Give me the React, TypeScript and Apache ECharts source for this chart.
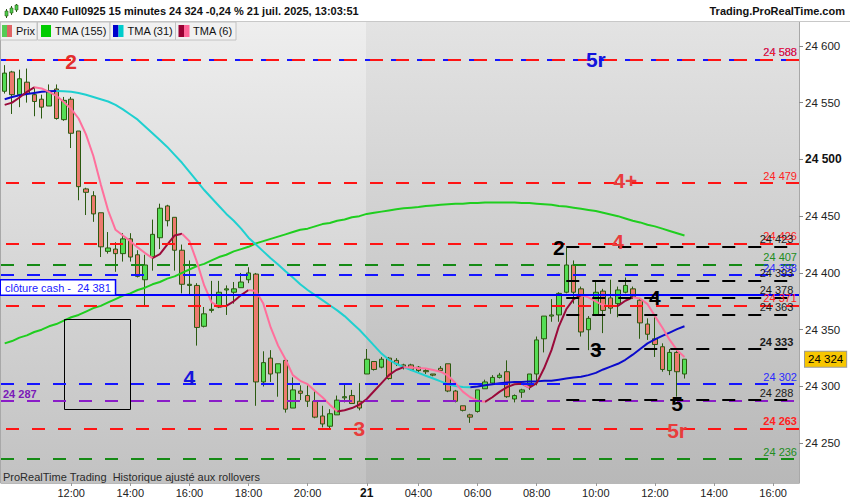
import { useEffect, useRef } from "react";
import * as echarts from "echarts";

// 15 minute bars, DAX40 Full0925 (index 0 = first visible bar)
const opens = [
  24560, 24577, 24557, 24568, 24557, 24553, 24547, 24562, 24535, 24553,
  24525, 24474, 24468, 24453, 24419, 24421, 24417, 24430, 24416, 24394,
  24414, 24431, 24459, 24449, 24420, 24389, 24389, 24353, 24367, 24370,
  24385, 24383, 24387, 24394, 24399, 24304, 24325, 24312, 24323, 24281,
  24296, 24292, 24287, 24274, 24265, 24275, 24290, 24292, 24287, 24311,
  24322, 24317, 24325, 24323, 24319, 24319, 24317, 24314, 24311, 24316,
  24320, 24296, 24283, 24275, 24278, 24298, 24303, 24308, 24313, 24289,
  24295, 24301, 24311, 24342, 24362, 24363, 24383, 24407, 24386, 24350,
  24363, 24384, 24378, 24373, 24383, 24386, 24376, 24355, 24342, 24335,
  24314, 24330, 24311,
];
const closes = [
  24576, 24557, 24571, 24558, 24551, 24546, 24560, 24536, 24552, 24523,
  24476, 24471, 24452, 24423, 24422, 24417, 24430, 24414, 24397, 24407,
  24434, 24457, 24446, 24420, 24390, 24390, 24352, 24364, 24368, 24383,
  24386, 24386, 24392, 24400, 24304, 24321, 24311, 24320, 24280, 24297,
  24294, 24287, 24273, 24267, 24276, 24288, 24291, 24285, 24281, 24324,
  24315, 24324, 24307, 24320, 24317, 24315, 24314, 24313, 24310, 24314,
  24296, 24287, 24279, 24273, 24297, 24304, 24308, 24310, 24291, 24292,
  24297, 24311, 24341, 24362, 24363, 24382, 24407, 24383, 24348, 24360,
  24383, 24367, 24369, 24385, 24389, 24379, 24356, 24346, 24337, 24315,
  24330, 24313, 24324,
];
const lows = [
  24558, 24540, 24546, 24550, 24538, 24536, 24547, 24535, 24534, 24510,
  24464, 24451, 24445, 24414, 24417, 24401, 24410, 24410, 24396, 24370,
  24402, 24421, 24441, 24402, 24382, 24380, 24336, 24352, 24365, 24369,
  24363, 24373, 24387, 24391, 24283, 24300, 24304, 24291, 24277, 24281,
  24288, 24282, 24272, 24264, 24262, 24275, 24286, 24285, 24279, 24311,
  24314, 24316, 24306, 24318, 24315, 24314, 24312, 24311, 24309, 24313,
  24295, 24286, 24278, 24268, 24277, 24298, 24302, 24307, 24290, 24286,
  24290, 24297, 24301, 24330, 24357, 24357, 24382, 24373, 24344, 24332,
  24362, 24347, 24364, 24361, 24382, 24377, 24342, 24341, 24326, 24313,
  24310, 24291, 24307,
];
const highs = [
  24583, 24578, 24579, 24580, 24564, 24557, 24566, 24566, 24555, 24555,
  24525, 24475, 24472, 24453, 24436, 24427, 24435, 24435, 24420, 24416,
  24447, 24461, 24460, 24449, 24425, 24411, 24391, 24370, 24393, 24393,
  24389, 24392, 24400, 24405, 24400, 24331, 24332, 24320, 24324, 24308,
  24301, 24301, 24297, 24283, 24280, 24292, 24303, 24297, 24303, 24333,
  24322, 24326, 24326, 24325, 24320, 24320, 24318, 24316, 24311, 24318,
  24320, 24297, 24283, 24276, 24297, 24306, 24310, 24312, 24323, 24293,
  24298, 24311, 24344, 24362, 24377, 24383, 24422, 24411, 24388, 24362,
  24392, 24386, 24394, 24388, 24396, 24388, 24378, 24360, 24361, 24338,
  24333, 24333, 24324,
];

const tma155 = [
  24338, 24340, 24343, 24345, 24348, 24350, 24353, 24355, 24358, 24361,
  24363, 24366, 24369, 24371, 24374, 24377, 24380, 24382, 24385, 24387,
  24390, 24392, 24395, 24397, 24400, 24403, 24406, 24408, 24411, 24414,
  24416, 24419, 24421, 24423, 24426, 24428, 24430, 24432, 24434, 24436,
  24438, 24439, 24441, 24443, 24444, 24446, 24447, 24449, 24450, 24452,
  24453, 24454, 24455, 24456, 24457, 24457.5, 24458, 24459, 24459.5, 24460,
  24460.5, 24461, 24461, 24461.5, 24461.5, 24462, 24462, 24462, 24462, 24462,
  24461.5, 24461.5, 24461, 24460.5, 24460, 24459, 24458.5, 24457.5, 24456.5, 24455.5,
  24454.5, 24453, 24451.5, 24450, 24448, 24446, 24444.5, 24442.5, 24441, 24439,
  24437, 24435, 24433,
];
const tma31 = [
  24553, 24555, 24556.5, 24557.5, 24558.5, 24559.5, 24560, 24560.3, 24560, 24559.5,
  24558.5, 24557, 24555, 24553, 24551, 24548, 24544, 24539.5, 24535, 24529,
  24523, 24517, 24511, 24504, 24497, 24489, 24481, 24473, 24466, 24459,
  24452, 24446, 24439, 24431, 24425, 24419, 24413, 24407.5, 24401.5, 24396,
  24390, 24385, 24380.5, 24376, 24371.5, 24367, 24362, 24356, 24350, 24343,
  24336, 24329, 24323.5, 24320, 24317, 24314.5, 24312, 24309.5, 24307, 24304.5,
  24302, 24300.5, 24299.5, 24299.3, 24300, 24301, 24302, 24302.8, 24303.5, 24304,
  24304, 24304.5, 24304.5, 24305, 24305, 24306, 24307, 24308, 24308.5, 24310,
  24312, 24315, 24317.5, 24320, 24323.5, 24328, 24333, 24338, 24341.5, 24344.5,
  24347.5, 24350.5, 24353,
];
const tma6 = [
  24548, 24550, 24554.5, 24559.5, 24563.5, 24562.5, 24559.5, 24556, 24550.5, 24544.5,
  24536, 24522, 24503, 24478, 24455, 24438, 24433, 24428, 24422.5, 24417.5,
  24413, 24416.5, 24425, 24433, 24434.5, 24428, 24410, 24389, 24374, 24370.5,
  24371, 24375, 24380.5, 24385, 24384, 24373, 24352, 24336, 24324, 24310,
  24305, 24302, 24296, 24290.5, 24284, 24278, 24279, 24281, 24284, 24289,
  24296, 24303, 24310, 24314.5, 24317, 24316.8, 24316.2, 24315.8, 24314.5, 24313,
  24309.5, 24303, 24295.5, 24290.5, 24287.5, 24286.5, 24290.5, 24295.5, 24299.5, 24302,
  24302.5, 24299, 24303, 24316, 24332, 24353, 24368, 24377, 24380.5, 24378.5,
  24375, 24371.5, 24370.8, 24371, 24375.5, 24378.5, 24377.5, 24372.5, 24362, 24352,
  24341, 24332, 24326,
];

const slotCount = 108;
const tickIndex = [9, 17, 25, 33, 41, 49, 56, 64, 72, 80, 88, 96, 104];
const tickText = [
  "12:00", "14:00", "16:00", "18:00", "20:00", "21",
  "04:00", "06:00", "08:00", "10:00", "12:00", "14:00", "16:00",
];
const priceTicks = [24250, 24300, 24350, 24400, 24450, 24500, 24550, 24600];
const yMin = 24215;
const yMax = 24621;

const redLevels = [24588, 24479, 24426, 24371, 24263];
const blueLevels = [24588, 24398, 24302];
const greenLevels = [24407, 24236];
const purpleLevels = [24287];
const blackLevels = [24423, 24393, 24378, 24363, 24333, 24288];
const blackFrom = 76;
const cashClose = 24381;
const lastPrice = 24324;
const boldLevels = [24333, 24263];

const noteText = ["2", "5r", "4+", "4", "2", "4", "3", "4", "5", "3", "5r"];
const noteIndex = [9, 80, 84, 83, 75, 88, 80, 25, 91, 48, 91];
const notePrice = [24586, 24588, 24481, 24428, 24422, 24378, 24333, 24308, 24285, 24263, 24261];
const noteColor = [
  "#e22e2e", "#1414dc", "#e83c3c", "#e83c3c", "#000000", "#000000",
  "#000000", "#1414dc", "#000000", "#e83c3c", "#e83c3c",
];

const FONT = "'Liberation Sans', Arial, sans-serif";

const fmt = (v: number) =>
  `${Math.floor(v / 1000)} ${String(v % 1000).padStart(3, "0")}`;

function trendSplit(vals: number[], rising: boolean) {
  return vals.map((v, i) => {
    const prev = i > 0 && vals[i] >= vals[i - 1] === rising;
    const next = i < vals.length - 1 && vals[i + 1] >= vals[i] === rising;
    return prev || next ? v : null;
  });
}

function level(v: number, color: string, textColor: string, offset = 0) {
  return {
    yAxis: v,
    lineStyle: { color, type: [13, 13], width: 2, dashOffset: offset },
    label: {
      show: true,
      position: "insideEndTop",
      distance: [2, 2],
      formatter: fmt(v),
      color: textColor,
      fontSize: 11,
      fontWeight: boldLevels.includes(v) ? "bold" : "normal",
    },
  };
}

export default function App() {
  const chartRef = useRef<HTMLDivElement>(null);

  useEffect(() => {
    document.body.style.margin = "0";
    if (!chartRef.current) return;
    const chart = echarts.init(chartRef.current, null, { renderer: "svg" });

    const candles = opens.map((o, i) => [o, closes[i], lows[i], highs[i]]);
    const categories = Array.from({ length: slotCount }, (_, i) => String(i));
    const isTick = (i: number) => tickIndex.includes(i);

    const levelLines: any[] = [
      ...blueLevels.map((v) => level(v, "#1414ff", "#2a2aff")),
      ...redLevels.map((v) => level(v, "#ff1414", "#ff2222", -5)),
      ...greenLevels.map((v) => level(v, "#158a15", "#218c21")),
      {
        yAxis: purpleLevels[0],
        lineStyle: { color: "#8a1cc8", type: [13, 13], width: 2 },
        label: {
          show: true,
          position: "insideStartTop",
          distance: [2, 2],
          formatter: fmt(purpleLevels[0]),
          color: "#7a1ab8",
          fontSize: 11,
          fontWeight: "bold",
        },
      },
      ...blackLevels.map((v) => [
        {
          coord: [blackFrom, v],
          lineStyle: { color: "#000", type: [13, 13], width: 2 },
          label: {
            show: true,
            position: "insideEndTop",
            distance: [2, 2],
            formatter: fmt(v),
            color: "#1a1a1a",
            fontSize: 11,
            fontWeight: boldLevels.includes(v) ? "bold" : "normal",
          },
        },
        { coord: [slotCount - 1, v] },
      ]),
      {
        yAxis: cashClose,
        lineStyle: { color: "#0000ff", type: "solid", width: 2 },
        label: {
          show: true,
          position: "insideStartTop",
          distance: [0, 0],
          formatter: `clôture cash -  ${fmt(cashClose)}`,
          color: "#1a1aff",
          fontSize: 11,
          backgroundColor: "#ffffff",
          borderColor: "#0000ff",
          borderWidth: 1.5,
          padding: [2, 4, 1, 4],
        },
      },
    ];

    const maLine = (name: string, data: (number | null)[], color: string) => ({
      name,
      type: "line",
      data,
      showSymbol: false,
      symbol: "none",
      z: 4,
      lineStyle: { color, width: 2 },
      connectNulls: false,
    });

    const legendBox = (x: number, w: number) => ({
      type: "rect",
      z: 100,
      shape: { x: x + 0.5, y: 22, width: w, height: 18 },
      style: { fill: "#f1f1f1", stroke: "#c2c2c2", lineWidth: 1 },
    });
    const swatch = (x: number, w: number, fill: string) => ({
      type: "rect",
      z: 101,
      shape: { x, y: 25, width: w, height: 12 },
      style: { fill },
    });
    const legendText = (x: number, text: string) => ({
      type: "text",
      z: 101,
      x,
      y: 31,
      style: { text, fill: "#111", font: `11px ${FONT}`, textVerticalAlign: "middle" },
    });
    const iconCandle = (x: number, top: number, bodyTop: number, bodyBottom: number, bottom: number) => [
      {
        type: "line",
        z: 100,
        shape: { x1: x + 1.5, y1: top, x2: x + 1.5, y2: bottom },
        style: { stroke: "#2d5a16", lineWidth: 1 },
      },
      {
        type: "rect",
        z: 101,
        shape: { x, y: bodyTop, width: 3, height: bodyBottom - bodyTop },
        style: { fill: "#4ccc4c", stroke: "#2d5a16", lineWidth: 0.6 },
      },
    ];

    chart.setOption({
      animation: false,
      textStyle: { fontFamily: FONT },
      grid: { left: 1, right: 51, top: 22, bottom: 17 },
      xAxis: {
        type: "category",
        data: categories,
        boundaryGap: true,
        axisLine: { show: true, lineStyle: { color: "#b8b8b8" } },
        axisTick: {
          show: true,
          interval: (i: number) => isTick(i),
          alignWithLabel: true,
          length: 3,
          lineStyle: { color: "#999" },
        },
        axisLabel: {
          interval: (i: number) => isTick(i),
          margin: 4,
          fontSize: 11,
          color: "#222",
          formatter: (_v: string, i: number) => {
            const t = tickText[tickIndex.indexOf(i)] ?? "";
            return t === "21" ? `{b|${t}}` : t;
          },
          rich: { b: { fontWeight: "bold", fontSize: 12, color: "#111" } },
        },
        splitLine: { show: false },
      },
      yAxis: {
        type: "value",
        position: "right",
        min: yMin,
        max: yMax,
        scale: true,
        splitLine: { show: false },
        axisLine: { show: true, lineStyle: { color: "#a8a8a8" } },
        axisTick: {
          show: true,
          customValues: priceTicks,
          length: 4,
          lineStyle: { color: "#888" },
        },
        axisLabel: {
          customValues: priceTicks,
          margin: 6,
          fontSize: 11.5,
          color: "#222",
          formatter: (v: number) => (v === 24500 ? `{b|${fmt(v)}}` : fmt(v)),
          rich: { b: { fontWeight: "bold", fontSize: 12, color: "#111" } },
        },
      },
      graphic: [
        {
          type: "rect",
          z: 0,
          silent: true,
          shape: { x: 1, y: 22, width: 365, height: 461 },
          style: {
            fill: new echarts.graphic.LinearGradient(0, 0, 0, 1, [
              { offset: 0, color: "#eeeeee" },
              { offset: 1, color: "#c2c2c2" },
            ]),
          },
        },
        {
          type: "rect",
          z: 0,
          silent: true,
          shape: { x: 366, y: 22, width: 433, height: 461 },
          style: {
            fill: new echarts.graphic.LinearGradient(0, 0, 0, 1, [
              { offset: 0, color: "#e3e3e3" },
              { offset: 1, color: "#b8b8b8" },
            ]),
          },
        },
        {
          type: "line",
          z: 1,
          shape: { x1: 0.5, y1: 22, x2: 0.5, y2: 483 },
          style: { stroke: "#a8a8a8", lineWidth: 1 },
        },
        {
          type: "line",
          z: 1,
          shape: { x1: 0, y1: 21.5, x2: 850, y2: 21.5 },
          style: { stroke: "#c8c8c8", lineWidth: 1 },
        },
        {
          type: "rect",
          z: 5,
          silent: true,
          shape: { x: 64.5, y: 319.5, width: 66, height: 90 },
          style: { fill: "none", stroke: "#000", lineWidth: 1 },
        },
        ...iconCandle(5, 9, 11, 16, 18),
        ...iconCandle(10, 6, 8, 13, 15),
        ...iconCandle(15, 4, 5, 10, 12),
        {
          type: "text",
          z: 100,
          x: 23,
          y: 11,
          style: {
            text: "DAX40 Full0925 15 minutes 24 324 -0,24 % 21 juil. 2025, 13:03:51",
            fill: "#111",
            font: `bold 11px ${FONT}`,
            textVerticalAlign: "middle",
          },
        },
        {
          type: "text",
          z: 100,
          x: 845,
          y: 11,
          style: {
            text: "Trading.ProRealTime.com",
            fill: "#111",
            font: `bold 11px ${FONT}`,
            textAlign: "right",
            textVerticalAlign: "middle",
          },
        },
        legendBox(0, 36.5),
        legendBox(37, 72.5),
        legendBox(109.5, 65.5),
        legendBox(175, 60.5),
        swatch(2, 5, "#55cc55"),
        swatch(7, 5, "#e06464"),
        legendText(16, "Prix"),
        swatch(41, 10, "#00cc00"),
        legendText(55, "TMA (155)"),
        swatch(113, 5.5, "#0000cc"),
        swatch(118.5, 5, "#00cccc"),
        legendText(127.5, "TMA (31)"),
        swatch(178.5, 5.5, "#990033"),
        swatch(184, 5.5, "#ff6699"),
        legendText(193, "TMA (6)"),
        {
          type: "text",
          z: 100,
          x: 3,
          y: 477,
          style: {
            text: "ProRealTime Trading  Historique ajusté aux rollovers",
            fill: "#2a2a2a",
            font: `11px ${FONT}`,
            textVerticalAlign: "middle",
          },
        },
      ],
      series: [
        {
          name: "levels",
          type: "line",
          data: [],
          z: 2,
          markLine: {
            silent: true,
            symbol: ["none", "none"],
            animation: false,
            data: levelLines,
          },
        },
        {
          name: "Prix",
          type: "candlestick",
          data: candles,
          barWidth: 5,
          z: 3,
          itemStyle: {
            color: "#55dd55",
            color0: "#ec7a6e",
            borderColor: "#2b5a10",
            borderColor0: "#2b5a10",
            borderWidth: 1,
          },
          markLine: {
            silent: true,
            symbol: ["none", "none"],
            animation: false,
            data: [
              {
                yAxis: lastPrice,
                lineStyle: { color: "rgba(0,0,0,0)", width: 1, type: "solid" },
                label: {
                  show: true,
                  position: "end",
                  distance: 6,
                  formatter: fmt(lastPrice),
                  color: "#000",
                  fontSize: 11.5,
                  backgroundColor: "#f7c600",
                  borderColor: "#9a9a9a",
                  borderWidth: 1,
                  padding: [2, 3, 1, 3],
                },
              },
            ],
          },
        },
        maLine("TMA (155)", tma155, "#1fce1f"),
        maLine("TMA (31) up", trendSplit(tma31, true), "#0a0acc"),
        maLine("TMA (31) down", trendSplit(tma31, false), "#1fd0d0"),
        maLine("TMA (6) up", trendSplit(tma6, true), "#9a0a3a"),
        maLine("TMA (6) down", trendSplit(tma6, false), "#ff6f9c"),
        {
          name: "notes",
          type: "scatter",
          symbolSize: 0,
          z: 6,
          itemStyle: { opacity: 1 },
          data: noteText.map((t, k) => ({
            value: [noteIndex[k], notePrice[k]],
            name: t,
            label: { color: noteColor[k] },
          })),
          label: {
            show: true,
            opacity: 1,
            position: "inside",
            formatter: (p: any) => p.name,
            fontSize: 21,
            fontWeight: "bold",
          },
        },
      ],
    });

    return () => {
      chart.dispose();
    };
  }, []);

  return <div ref={chartRef} style={{ width: 850, height: 500 }} />;
}
